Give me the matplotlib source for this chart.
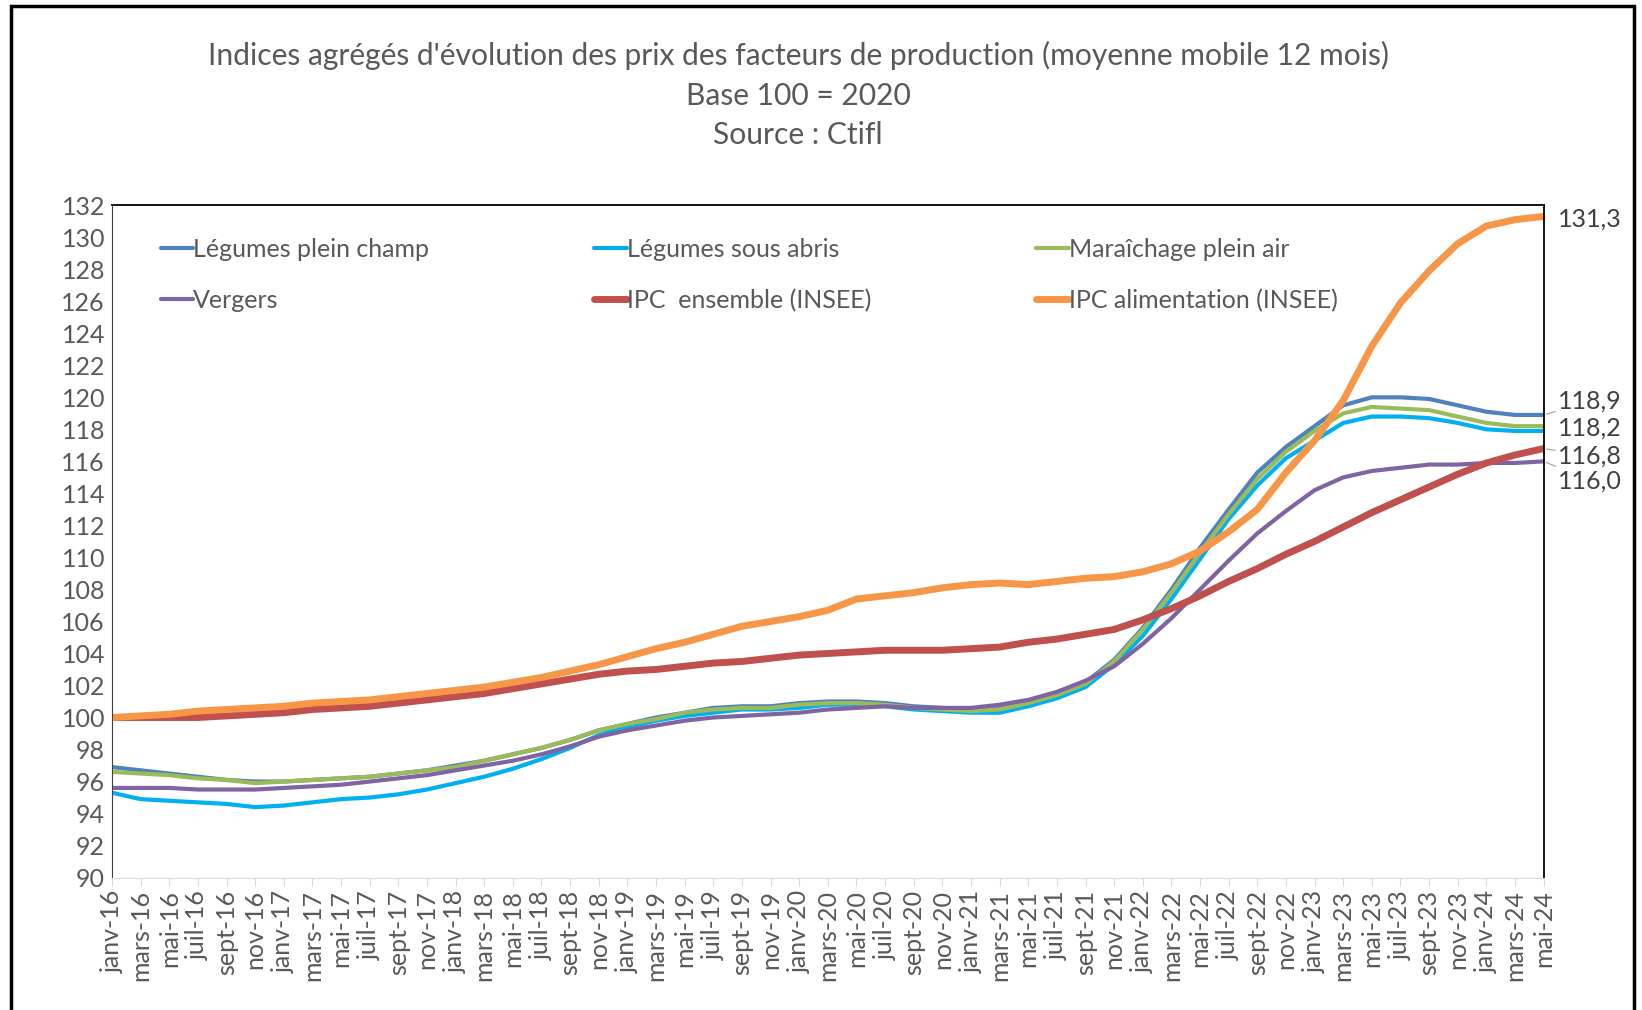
import matplotlib.pyplot as plt
from matplotlib.patches import Rectangle

plt.rcParams['font.family'] = ['Lato', 'DejaVu Sans']

# mois (un point tous les 2 mois, index en mois depuis janv-16)
months = ['janv', 'mars', 'mai', 'juil', 'sept', 'nov']
labels = [f'{m}-{y}' for y in range(16, 25) for m in months][:51]
idx = list(range(0, 101, 2))

legumes_plein_champ = [96.9, 96.7, 96.5, 96.3, 96.1, 96.0, 96.0, 96.1, 96.2, 96.3, 96.5, 96.7,
                       97.0, 97.3, 97.7, 98.1, 98.6, 99.2, 99.6, 100.0, 100.3, 100.6, 100.7, 100.7,
                       100.9, 101.0, 101.0, 100.9, 100.7, 100.6, 100.5, 100.6, 101.0, 101.5, 102.2, 103.6,
                       105.6, 108.0, 110.6, 113.0, 115.3, 116.9, 118.2, 119.5, 120.0, 120.0, 119.9, 119.5,
                       119.1, 118.9, 118.9]
legumes_sous_abris = [95.3, 94.9, 94.8, 94.7, 94.6, 94.4, 94.5, 94.7, 94.9, 95.0, 95.2, 95.5,
                      95.9, 96.3, 96.8, 97.4, 98.1, 98.9, 99.4, 99.8, 100.1, 100.3, 100.5, 100.5,
                      100.6, 100.8, 100.8, 100.7, 100.5, 100.4, 100.3, 100.3, 100.7, 101.2, 101.9, 103.3,
                      105.1, 107.4, 109.9, 112.4, 114.5, 116.2, 117.3, 118.4, 118.8, 118.8, 118.7, 118.4,
                      118.0, 117.9, 117.9]
maraichage = [96.6, 96.5, 96.4, 96.2, 96.1, 95.9, 96.0, 96.1, 96.2, 96.3, 96.5, 96.7,
              96.9, 97.3, 97.7, 98.1, 98.6, 99.2, 99.6, 99.9, 100.3, 100.5, 100.6, 100.6,
              100.8, 100.9, 100.9, 100.8, 100.6, 100.5, 100.4, 100.5, 100.9, 101.4, 102.1, 103.5,
              105.5, 107.8, 110.3, 112.7, 114.9, 116.6, 117.9, 119.0, 119.4, 119.3, 119.2, 118.8,
              118.4, 118.2, 118.2]
vergers = [95.6, 95.6, 95.6, 95.5, 95.5, 95.5, 95.6, 95.7, 95.8, 96.0, 96.2, 96.4,
           96.7, 97.0, 97.3, 97.7, 98.2, 98.8, 99.2, 99.5, 99.8, 100.0, 100.1, 100.2,
           100.3, 100.5, 100.6, 100.7, 100.6, 100.6, 100.6, 100.8, 101.1, 101.6, 102.3, 103.2,
           104.6, 106.2, 108.0, 109.8, 111.5, 112.9, 114.2, 115.0, 115.4, 115.6, 115.8, 115.8,
           115.9, 115.9, 116.0]
ipc_ensemble = [100.0, 100.0, 100.0, 100.0, 100.1, 100.2, 100.3, 100.5, 100.6, 100.7, 100.9, 101.1,
                101.3, 101.5, 101.8, 102.1, 102.4, 102.7, 102.9, 103.0, 103.2, 103.4, 103.5, 103.7,
                103.9, 104.0, 104.1, 104.2, 104.2, 104.2, 104.3, 104.4, 104.7, 104.9, 105.2, 105.5,
                106.1, 106.8, 107.6, 108.5, 109.3, 110.2, 111.0, 111.9, 112.8, 113.6, 114.4, 115.2,
                115.9, 116.4, 116.8]
ipc_alimentation = [100.0, 100.1, 100.2, 100.4, 100.5, 100.6, 100.7, 100.9, 101.0, 101.1, 101.3, 101.5,
                    101.7, 101.9, 102.2, 102.5, 102.9, 103.3, 103.8, 104.3, 104.7, 105.2, 105.7, 106.0,
                    106.3, 106.7, 107.4, 107.6, 107.8, 108.1, 108.3, 108.4, 108.3, 108.5, 108.7, 108.8,
                    109.1, 109.6, 110.4, 111.6, 113.0, 115.3, 117.3, 119.8, 123.2, 125.9, 127.9, 129.6,
                    130.7, 131.1, 131.3]

series = [
    ('Légumes plein champ', legumes_plein_champ, '#4F81BD', 3.0),
    ('Légumes sous abris', legumes_sous_abris, '#00B0F0', 3.0),
    ('Maraîchage plein air', maraichage, '#9BBB59', 3.0),
    ('Vergers', vergers, '#8064A2', 3.0),
    ('IPC  ensemble (INSEE)', ipc_ensemble, '#C0504D', 5.0),
    ('IPC alimentation (INSEE)', ipc_alimentation, '#F79646', 5.0),
]

grey = '#595959'
fig = plt.figure(figsize=(16.42, 10.10), dpi=100)
ax = fig.add_axes([0.0682, 0.1311, 0.8719, 0.6657])

lines = {}
for name, vals, col, lw in series:
    ln, = ax.plot(idx, vals, color=col, lw=lw, solid_capstyle='round', label=name)
    lines[name] = ln

ax.set_xlim(0, 100)
ax.set_ylim(90, 132)
ax.set_yticks(range(90, 133, 2))
ax.set_xticks(idx)
ax.set_xticklabels(labels, rotation=90)
ax.tick_params(axis='y', length=0, labelsize=18, labelcolor=grey, pad=5)
ax.tick_params(axis='x', length=6, color='#D9D9D9', labelsize=18, labelcolor=grey, pad=3)
ax.spines['bottom'].set_color('#D9D9D9')
ax.spines['left'].set_color('#404040')
for s in ['top', 'right']:
    ax.spines[s].set_color('black')
    ax.spines[s].set_linewidth(1.3)

# legende sur 2 lignes, 3 colonnes
order = ['Légumes plein champ', 'Vergers', 'Légumes sous abris', 'IPC  ensemble (INSEE)',
         'Maraîchage plein air', 'IPC alimentation (INSEE)']
leg = ax.legend([lines[n] for n in order], order, ncol=3, loc='upper left',
                bbox_to_anchor=(0.027, 0.966), frameon=False, fontsize=18,
                handlelength=1.3, handletextpad=0.0, columnspacing=6.6,
                labelspacing=1.1, borderaxespad=0)
for t in leg.get_texts():
    t.set_color(grey)

# etiquettes de fin de courbe
end_names = ['IPC alimentation (INSEE)', 'Légumes plein champ', 'Maraîchage plein air',
             'IPC  ensemble (INSEE)', 'Vergers']
end_shift = [-0.15, 0.85, -0.1, -0.45, -1.2]
for name, dy in zip(end_names, end_shift):
    v = dict((s[0], s[1]) for s in series)[name][-1]
    txt = f'{v:.1f}'.replace('.', ',')
    ax.annotate(txt, xy=(100, v), xytext=(101.0, v + dy), fontsize=18, color='#404040',
                va='center', ha='left', annotation_clip=False,
                arrowprops=dict(arrowstyle='-', color='#A0A0A0', lw=0.8,
                                shrinkA=0, shrinkB=2) if abs(dy) > 0.3 else None)

title = ["Indices agrégés d'évolution des prix des facteurs de production (moyenne mobile 12 mois)",
         'Base 100 = 2020', 'Source : Ctifl']
for t, y in zip(title, [0.945, 0.905, 0.866]):
    fig.text(0.486, y, t, ha='center', va='center', fontsize=21.6, color=grey)

fig.patches.append(Rectangle((11 / 1642, -0.05), 1623 / 1642, 1.05 - 6 / 1010,
                             transform=fig.transFigure, fill=False, ec='black', lw=2.5))

fig.savefig('out.png', dpi=100)
